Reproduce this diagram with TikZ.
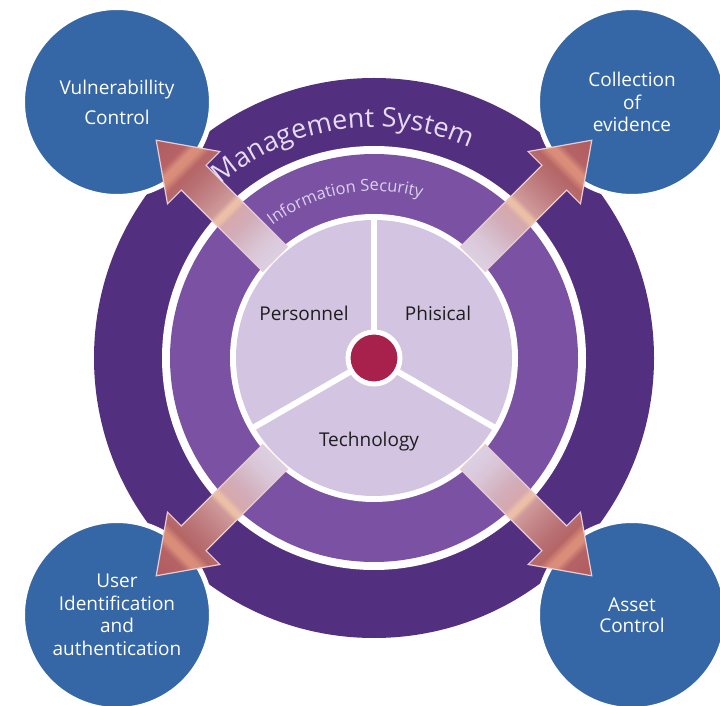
\documentclass[tikz,border=0pt]{standalone}
\usepackage{fontspec}
\setmainfont{Open Sans}
\usetikzlibrary{decorations.text}

% palette
\definecolor{ringdark}{HTML}{532F80}
\definecolor{ringmid}{HTML}{7A51A3}
\definecolor{corefill}{HTML}{D3C4E1}
\definecolor{hubred}{HTML}{A8204C}
\definecolor{goalblue}{HTML}{3566A6}
\definecolor{labelgrey}{HTML}{1E1E1E}
\definecolor{mgmttext}{HTML}{E6DCF2}
\definecolor{infotext}{HTML}{DDD1EC}
\definecolor{arrowedge}{HTML}{E8CCD2}

% arrow gradient stops (base -> tip)
\definecolor{ag0}{HTML}{DCD0E4}
\definecolor{ag1}{HTML}{D9C6D6}
\definecolor{ag2}{HTML}{D3ADB9}
\definecolor{ag3}{HTML}{D6A8AD}
\definecolor{ag4}{HTML}{EBBFA8}
\definecolor{ag5}{HTML}{ECC0A6}
\definecolor{ag6}{HTML}{CF9A9A}
\definecolor{ag7}{HTML}{C48587}
\definecolor{ag8}{HTML}{B86F71}
\definecolor{ag9}{HTML}{B56566}
\definecolor{ag10}{HTML}{D98D79}
\definecolor{ag11}{HTML}{DA8F7A}
\definecolor{ag12}{HTML}{B66366}
\definecolor{ag13}{HTML}{B05B5F}

\pgfdeclarehorizontalshading{arrowgrad}{100bp}{%
  color(0bp)=(ag0); color(25bp)=(ag0); color(31bp)=(ag1);
  color(38.5bp)=(ag2); color(43bp)=(ag3); color(44.5bp)=(ag4);
  color(45.7bp)=(ag5); color(47.2bp)=(ag6); color(51.9bp)=(ag7);
  color(57.9bp)=(ag8); color(61.5bp)=(ag9); color(63.9bp)=(ag10);
  color(65.7bp)=(ag11); color(67.8bp)=(ag12); color(75bp)=(ag13);
  color(100bp)=(ag13)}

\newcommand\mgmtfont{\fontsize{27}{27}\selectfont}
\newcommand\infofont{\fontsize{16.5}{16.5}\selectfont}

\tikzset{
  goal/.style={circle, fill=goalblue, draw=white, line width=5pt,
    minimum size=189pt, inner sep=0pt, text=white, align=center},
  corelabel/.style={text=labelgrey, font=\fontsize{19}{19}\selectfont},
  spoke/.style={draw=white, line width=6pt},
  hubdot/.style={circle, fill=hubred, draw=white, line width=5pt,
    minimum size=52pt, inner sep=0pt},
  flowarrow/.style={shade, shading=arrowgrad, draw=arrowedge, line width=1.2pt}
}

\begin{document}
\begin{tikzpicture}[x=1pt, y=1pt]
  \useasboundingbox (0,0) rectangle (720,705);
  \fill[white] (0,0) rectangle (720,705);
  \clip (0,0) rectangle (720,705);

  \coordinate (hub) at (374,347);

  % concentric rings
  \fill[ringdark] (hub) circle[radius=280pt];
  \fill[white]    (hub) circle[radius=212pt];
  \fill[ringmid]  (hub) circle[radius=204pt];
  \fill[white]    (hub) circle[radius=144pt];
  \fill[corefill] (hub) circle[radius=138pt];

  % spokes dividing the core
  \foreach \a in {90,210,330}
    \draw[spoke] (hub) -- ++(\a:140pt);

  \node[hubdot] (centre) at (hub) {};

  % goal circles
  \node[goal, font=\fontsize{19}{30}\selectfont] (vuln) at (117,603)
    {Vulnerabillity\\Control};
  \node[goal, font=\fontsize{19}{22.5}\selectfont] (evid) at (632,603)
    {Collection\\of\\evidence};
  \node[goal, font=\fontsize{19}{22.5}\selectfont] (user) at (117,90)
    {User\\Identification\\and\\authentication};
  \node[goal, font=\fontsize{19}{21}\selectfont] (asset) at (632,90)
    {Asset\\Control};

  % outward arrows from the core to each goal
  \foreach \a in {45,135,225,315} {
    \begin{scope}[transform canvas={shift={(374,347)}, rotate=\a}]
      \path[flowarrow] (140,17.5) -- (255,17.5) -- (255,37) -- (308,0)
        -- (255,-37) -- (255,-17.5) -- (140,-17.5) -- cycle;
    \end{scope}
  }

  % core labels
  \node[corelabel] (personnel) at (304,392) {Personnel};
  \node[corelabel] (physical)  at (438,392) {Phisical};
  \node[corelabel] (tech)      at (369,263) {Technology};

  % curved ring titles
  \path[decorate, decoration={text along path, text align=center,
      text={|\color{mgmttext}\mgmtfont|Management System}}]
    (hub) ++(150:231pt) arc[start angle=150, end angle=47, radius=231pt];
  \path[decorate, decoration={text along path, text align=center,
      text={|\color{infotext}\infofont|Information Security}}]
    (hub) ++(150:167pt) arc[start angle=150, end angle=51, radius=167pt];
\end{tikzpicture}
\end{document}
